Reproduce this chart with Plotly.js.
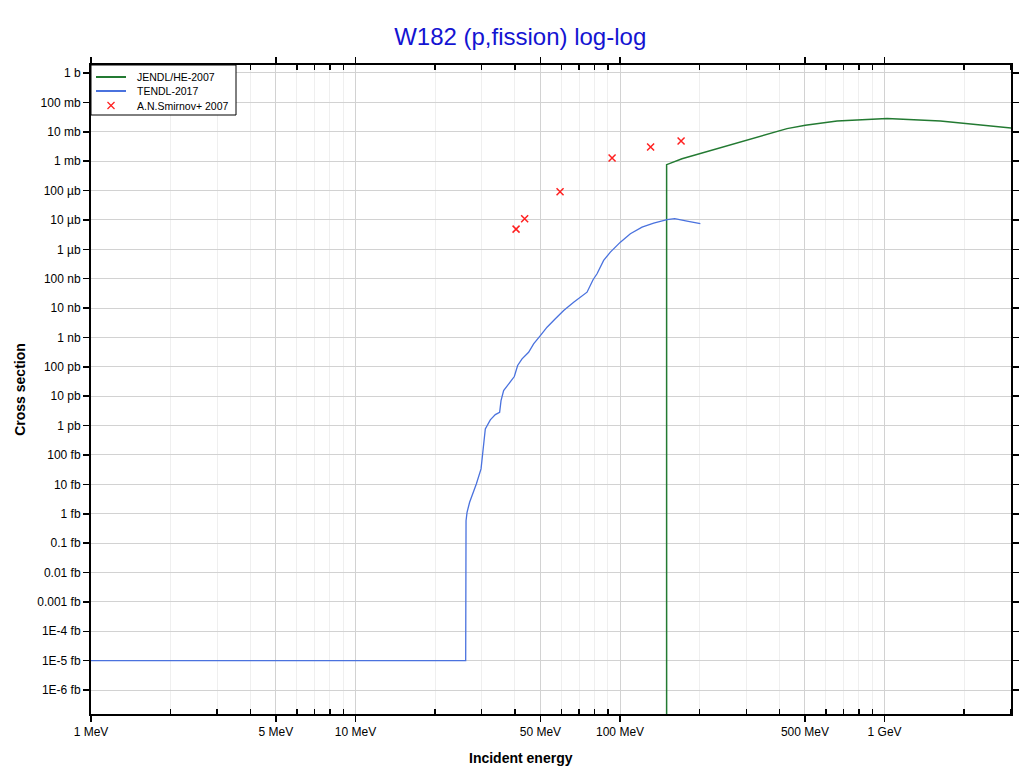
<!DOCTYPE html>
<html>
<head>
<meta charset="utf-8">
<script src="https://cdn.plot.ly/plotly-3.0.1.min.js"></script>
<style>html,body{margin:0;padding:0;background:#fff;}#chart{width:1024px;height:774px;}</style>
</head>
<body>
<div id="chart"></div>
<script>
// Energies in MeV, cross sections in barns
const tendlE = [1, 26.09, 26.17, 26.40, 27.00, 27.96, 28.62, 29.82, 30.34, 30.50, 30.95, 32.33, 33.77, 35.06, 35.49, 36.30, 37.91, 39.84, 41.01, 42.61, 45.12, 47.13, 49.97, 52.97, 56.94, 61.22, 66.78, 75.04, 79.06, 81.85, 86.70, 91.91, 100.3, 109.4, 121.1, 134.0, 150.5, 160.9, 179.2, 201.2];
const tendlXS = [1e-20, 1e-20, 5.8e-16, 1.12e-15, 2.45e-15, 5.35e-15, 1.03e-14, 3.36e-14, 1.41e-13, 3.09e-13, 7.73e-13, 1.57e-12, 2.37e-12, 2.84e-12, 7.11e-12, 1.56e-11, 2.64e-11, 4.67e-11, 1.11e-10, 1.87e-10, 3.14e-10, 6.07e-10, 1.16e-9, 2.23e-9, 4.31e-9, 8.28e-9, 1.59e-8, 3.47e-8, 9.19e-8, 1.47e-7, 4.18e-7, 8.0e-7, 1.75e-6, 3.39e-6, 5.69e-6, 7.78e-6, 1.02e-5, 1.10e-5, 9.1e-6, 7.43e-6];

const jendlE = [150.0, 150.0, 171.5, 253.8, 427.9, 501.8, 661.4, 1022, 1626, 3008];
const jendlXS = [1e-30, 7.59e-4, 1.21e-3, 3.27e-3, 1.28e-2, 1.66e-2, 2.32e-2, 2.80e-2, 2.32e-2, 1.34e-2];

const smirnovE = [40.45, 43.59, 59.32, 93.3, 130.5, 170.1];
const smirnovXS = [4.86e-6, 1.10e-5, 9.14e-5, 1.27e-3, 3.02e-3, 4.83e-3];

const seriesNames = ['JENDL/HE-2007', 'TENDL-2017', 'A.N.Smirnov+ 2007'];
const seriesColors = ['#237a32', '#4a72de', '#ff2020'];

const xTickVals = [1, 5, 10, 50, 100, 500, 1000];
const xTickText = ["1 MeV", "5 MeV", "10 MeV", "50 MeV", "100 MeV", "500 MeV", "1 GeV"];
const xMinorVals = [2,3,4,6,7,8,9,20,30,40,60,70,80,90,200,300,400,600,700,800,900,2000,3000];

const yTickVals = [1e0,1e-1,1e-2,1e-3,1e-4,1e-5,1e-6,1e-7,1e-8,1e-9,1e-10,1e-11,1e-12,1e-13,1e-14,1e-15,1e-16,1e-17,1e-18,1e-19,1e-20,1e-21];
const yTickText = ["1 b","100 mb","10 mb","1 mb","100 µb","10 µb","1 µb","100 nb","10 nb","1 nb","100 pb","10 pb","1 pb","100 fb","10 fb","1 fb","0.1 fb","0.01 fb","0.001 fb","1E-4 fb","1E-5 fb","1E-6 fb"];

const traces = [
  {x: jendlE, y: jendlXS, type: 'scatter', mode: 'lines', name: seriesNames[0],
   line: {color: seriesColors[0], width: 1.5}},
  {x: tendlE, y: tendlXS, type: 'scatter', mode: 'lines', name: seriesNames[1],
   line: {color: seriesColors[1], width: 1.3}},
  {x: smirnovE, y: smirnovXS, type: 'scatter', mode: 'markers', name: seriesNames[2],
   marker: {symbol: 'x-thin', size: 7, color: seriesColors[2], line: {color: seriesColors[2], width: 1.5}}}
];

// Plot area geometry in pixels (for a compact hand-drawn legend box)
const W = 1024, H = 774, ML = 91, MR = 13, MT = 65, MB = 60;
const PW = W - ML - MR, PH = H - MT - MB;
const px = v => (v - ML) / PW;
const py = v => 1 - (v - MT) / PH;

const legRowY = [77, 91, 105.5];
const shapes = [
  {type: 'rect', xref: 'paper', yref: 'paper', x0: px(91), x1: px(236), y0: py(115), y1: py(65),
   line: {color: '#000', width: 1}, fillcolor: '#ffffff', layer: 'above'},
  {type: 'line', xref: 'paper', yref: 'paper', x0: px(96), x1: px(126), y0: py(legRowY[0]), y1: py(legRowY[0]),
   line: {color: seriesColors[0], width: 2}, layer: 'above'},
  {type: 'line', xref: 'paper', yref: 'paper', x0: px(96), x1: px(126), y0: py(legRowY[1]), y1: py(legRowY[1]),
   line: {color: seriesColors[1], width: 2}, layer: 'above'},
  {type: 'line', xref: 'paper', yref: 'paper', x0: px(107.5), x1: px(114.5), y0: py(legRowY[2] - 3.5), y1: py(legRowY[2] + 3.5),
   line: {color: seriesColors[2], width: 1.3}, layer: 'above'},
  {type: 'line', xref: 'paper', yref: 'paper', x0: px(107.5), x1: px(114.5), y0: py(legRowY[2] + 3.5), y1: py(legRowY[2] - 3.5),
   line: {color: seriesColors[2], width: 1.3}, layer: 'above'}
];
const annotations = seriesNames.map((n, i) => ({
  text: n, xref: 'paper', yref: 'paper', x: px(135), y: py(legRowY[i]), xanchor: 'left', yanchor: 'middle',
  showarrow: false, font: {size: 10.5, color: '#000'}
}));
annotations.push({
  text: '<b>Incident energy</b>', xref: 'paper', yref: 'paper', x: px(521), y: py(758),
  xanchor: 'center', yanchor: 'middle', showarrow: false, font: {size: 14, color: '#000'}
});

const layout = {
  width: W, height: H,
  margin: {l: ML, r: MR, t: MT, b: MB},
  paper_bgcolor: '#ffffff', plot_bgcolor: '#ffffff',
  font: {family: 'Liberation Sans, Arial, sans-serif', size: 12, color: '#000'},
  title: {text: 'W182 (p,fission) log-log', font: {size: 24, color: '#1414d2', family: 'Liberation Sans, Arial, sans-serif'},
          x: 0.508, xanchor: 'center', y: 0.953, yanchor: 'middle', yref: 'container'},
  showlegend: false,
  shapes: shapes,
  annotations: annotations,
  xaxis: {
    type: 'log', range: [0, 3.478],
    tickmode: 'array', tickvals: xTickVals, ticktext: xTickText,
    ticks: 'outside', ticklen: 6, tickcolor: '#000', tickwidth: 1.5,
    showgrid: true, gridcolor: '#d2d2d2', gridwidth: 1,
    minor: {tickvals: xMinorVals, showgrid: true, gridcolor: '#efefef', gridwidth: 1, ticks: 'inside', ticklen: 5, tickcolor: '#000'},
    showline: true, linecolor: '#000', linewidth: 2, mirror: 'ticks',
    zeroline: false,
    tickfont: {size: 12}
  },
  yaxis: {
    type: 'log', range: [-21.815, 0.272],
    tickmode: 'array', tickvals: yTickVals, ticktext: yTickText,
    ticks: 'outside', ticklen: 6, tickcolor: '#000', tickwidth: 1.5,
    showgrid: true, gridcolor: '#d2d2d2', gridwidth: 1,
    showline: true, linecolor: '#000', linewidth: 2, mirror: 'ticks',
    zeroline: false,
    tickfont: {size: 12},
    title: {text: '<b>Cross section</b>', font: {size: 14}, standoff: 8}
  }
};

Plotly.newPlot('chart', traces, layout, {displayModeBar: false, staticPlot: true});
</script>
</body>
</html>
